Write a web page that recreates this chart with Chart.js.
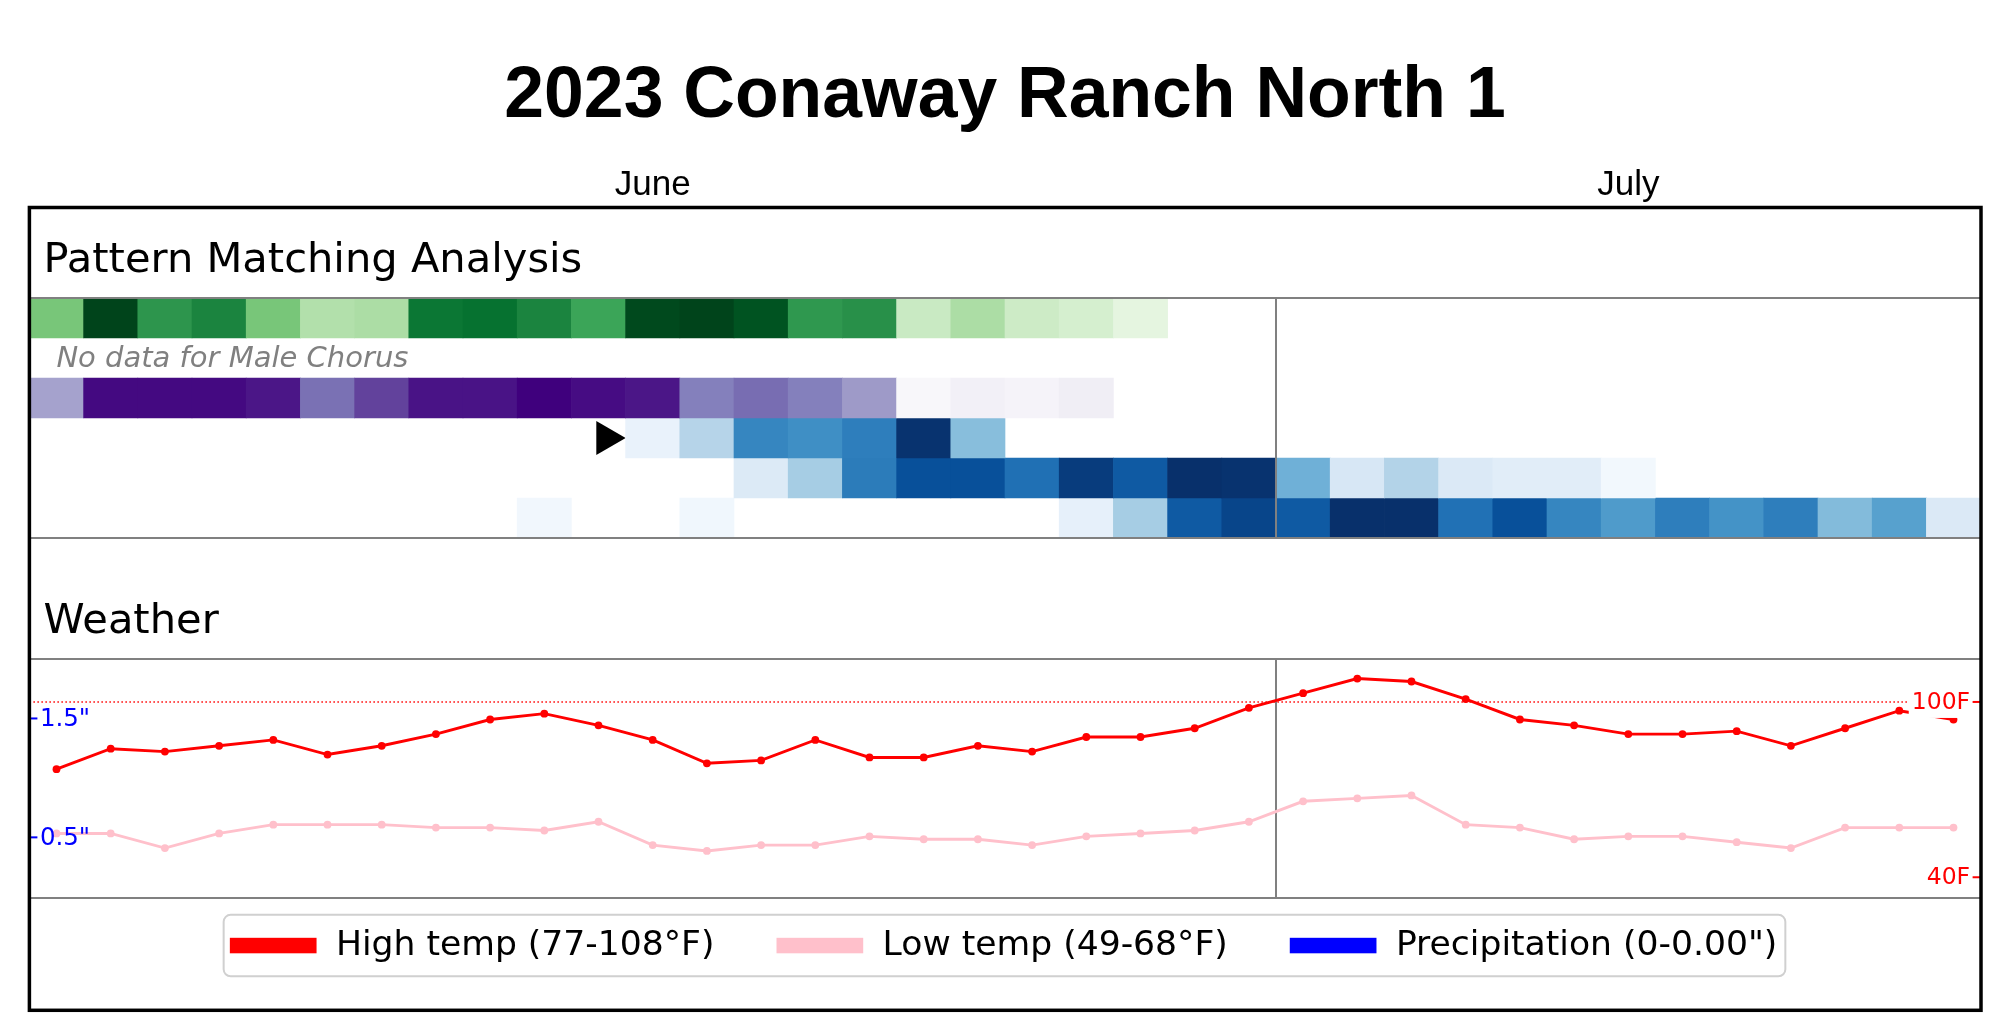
<!DOCTYPE html>
<html>
<head>
<meta charset="utf-8">
<title>2023 Conaway Ranch North 1</title>
<script src="https://cdn.jsdelivr.net/npm/chart.js@4.4.1/dist/chart.umd.min.js"></script>
<style>
html, body { margin:0; padding:0; background:#ffffff; }
#wrap { position:relative; width:2009px; height:1032px; overflow:hidden; background:#ffffff; }
#wrap canvas { position:absolute; left:0; top:0; }
</style>
</head>
<body>
<div id="wrap">
  <canvas id="heat" width="2009" height="1032"></canvas>
  <canvas id="weather" width="2009" height="1032"></canvas>
</div>
<script>
// ================= DATA =================
const chartTitle = '2023 Conaway Ranch North 1';
const days = [
  '2023-06-08','2023-06-09','2023-06-10','2023-06-11','2023-06-12','2023-06-13','2023-06-14','2023-06-15',
  '2023-06-16','2023-06-17','2023-06-18','2023-06-19','2023-06-20','2023-06-21','2023-06-22','2023-06-23',
  '2023-06-24','2023-06-25','2023-06-26','2023-06-27','2023-06-28','2023-06-29','2023-06-30',
  '2023-07-01','2023-07-02','2023-07-03','2023-07-04','2023-07-05','2023-07-06','2023-07-07','2023-07-08',
  '2023-07-09','2023-07-10','2023-07-11','2023-07-12','2023-07-13'
];
const monthNames = ['June', 'July'];

// Pattern matching rows (intensity 0..1, null = no value)
const greenRow = [0.49, 1.00, 0.71, 0.78, 0.49, 0.32, 0.34, 0.835, 0.855, 0.78, 0.65, 0.985, 1.00, 0.955, 0.70, 0.73, 0.24, 0.34, 0.225, 0.19, 0.125,
  null, null, null, null, null, null, null, null, null, null, null, null, null, null, null];
const maleChorusRow = [null, null, null, null, null, null, null, null, null, null, null, null, null, null, null, null, null, null,
  null, null, null, null, null, null, null, null, null, null, null, null, null, null, null, null, null, null];
const purpleRow = [0.47, 0.97, 0.97, 0.97, 0.93, 0.66, 0.795, 0.94, 0.94, 1.00, 0.96, 0.93, 0.61, 0.67, 0.61, 0.50, 0.04, 0.10, 0.07, 0.12,
  null, null, null, null, null, null, null, null, null, null, null, null, null, null, null, null];
const blueRow1 = [null, null, null, null, null, null, null, null, null, null, null,
  0.07, 0.30, 0.67, 0.635, 0.70, 0.99, 0.43,
  null, null, null, null, null, null, null, null, null, null, null, null, null, null, null, null, null, null];
const blueRow2 = [null, null, null, null, null, null, null, null, null, null, null, null, null,
  0.135, 0.35, 0.71, 0.88, 0.88, 0.755, 0.955, 0.84, 1.00, 0.99, 0.49, 0.16, 0.31, 0.14, 0.11, 0.11, 0.025,
  null, null, null, null, null, null];
const blueRow3 = [null, null, null, null, null, null, null, null, null, 0.03, null, null, 0.035,
  null, null, null, null, null, null,
  0.085, 0.35, 0.84, 0.92, 0.84, 1.00, 1.00, 0.75, 0.88, 0.67, 0.585, 0.70, 0.62, 0.70, 0.44, 0.56, 0.14];
const markerDay = 10.14;   // start marker position (day index)
const markerRow = 3;       // row of the start marker

// Weather
const highTemp = [77, 84, 83, 85, 87, 82, 85, 89, 94, 96, 92, 87, 79, 80, 87, 81, 81, 85, 83, 88, 88, 91, 98, 103, 108, 107, 101, 94, 92, 89, 89, 90, 85, 91, 97, 94];
const lowTemp  = [55, 55, 50, 55, 58, 58, 58, 57, 57, 56, 59, 51, 49, 51, 51, 54, 53, 53, 51, 54, 55, 56, 59, 66, 67, 68, 58, 57, 53, 54, 54, 52, 50, 57, 57, 57];
const precip   = [0, 0, 0, 0, 0, 0, 0, 0, 0, 0, 0, 0, 0, 0, 0, 0, 0, 0, 0, 0, 0, 0, 0, 0, 0, 0, 0, 0, 0, 0, 0, 0, 0, 0, 0, 0];
const tempRefLine = 100;
const tempTicks = [40, 100];
const precipTicks = [0.5, 1.5];

// ================= STYLE / HELPERS =================
Chart.defaults.font.family = '"DejaVu Sans", sans-serif';
const CMAPS = {
  Greens:  ['#f7fcf5','#e5f5e0','#c7e9c0','#a1d99b','#74c476','#41ab5d','#238b45','#006d2c','#00441b'],
  Purples: ['#fcfbfd','#efedf5','#dadaeb','#bcbddc','#9e9ac8','#807dba','#6a51a3','#54278f','#3f007d'],
  Blues:   ['#f7fbff','#deebf7','#c6dbef','#9ecae1','#6baed6','#4292c6','#2171b5','#08519c','#08306b']
};
function hexToRgb(h) { const n = parseInt(h.slice(1), 16); return [(n >> 16) & 255, (n >> 8) & 255, n & 255]; }
function cmap(name, v) {
  const stops = CMAPS[name].map(hexToRgb);
  const t = Math.max(0, Math.min(1, v)) * (stops.length - 1);
  const i = Math.min(stops.length - 2, Math.floor(t));
  const f = t - i;
  const c = stops[i].map((a, k) => Math.round(a + (stops[i + 1][k] - a) * f));
  return 'rgb(' + c[0] + ',' + c[1] + ',' + c[2] + ')';
}

const heatRows = [
  { label: 'Pattern A', values: greenRow, cmap: 'Greens' },
  { label: 'Male Chorus', values: maleChorusRow, cmap: 'Greens' },
  { label: 'Pattern C', values: purpleRow, cmap: 'Purples' },
  { label: 'Pattern D', values: blueRow1, cmap: 'Blues' },
  { label: 'Pattern E', values: blueRow2, cmap: 'Blues' },
  { label: 'Pattern F', values: blueRow3, cmap: 'Blues' }
];

const months = [];
days.forEach((d, i) => {
  const m = +d.slice(5, 7);
  let g = months[months.length - 1];
  if (!g || g.m !== m) { g = { m: m, name: monthNames[months.length], first: i, last: i }; months.push(g); }
  else g.last = i;
});

const W = 2009, H = 1032;
const PLOT_L = 29.4, PLOT_R = 1980.6;
const GRAY = '#808080';

function hline(ctx, x0, x1, y) { ctx.beginPath(); ctx.moveTo(x0, y); ctx.lineTo(x1, y); ctx.stroke(); }
function vline(ctx, x, y0, y1) { ctx.beginPath(); ctx.moveTo(x, y0); ctx.lineTo(x, y1); ctx.stroke(); }
function integerTicks(scale) { scale.ticks = days.map((d, i) => ({ value: i })); }

// ================= HEATMAP CHART =================
const heatDecor = {
  id: 'heatDecor',
  afterDatasetsDraw(chart) {
    const { ctx, chartArea: a, scales: { x, y } } = chart;
    ctx.save();
    // empty-row notes
    ctx.fillStyle = '#808080';
    ctx.font = 'italic 29px "DejaVu Sans"';
    ctx.textAlign = 'left';
    ctx.textBaseline = 'alphabetic';
    heatRows.forEach((row, r) => {
      if (row.values.every(v => v == null)) {
        ctx.fillText('No data for ' + row.label, x.getPixelForValue(-0.5) + 27, y.getPixelForValue(r + 0.5) + 9);
      }
    });
    // axes lines
    ctx.strokeStyle = GRAY; ctx.lineWidth = 2;
    hline(ctx, a.left, a.right, a.top);
    hline(ctx, a.left, a.right, a.bottom);
    months.slice(1).forEach(m => vline(ctx, x.getPixelForValue(m.first - 0.5), a.top, a.bottom));
    // month labels
    ctx.fillStyle = '#000';
    ctx.font = '35px "Liberation Sans"';
    ctx.textAlign = 'center';
    months.forEach(m => {
      const cx = (x.getPixelForValue(m.first - 0.5) + x.getPixelForValue(m.last + 0.5)) / 2;
      ctx.fillText(m.name, cx, 195);
    });
    // title
    ctx.font = 'bold 71.5px "Liberation Sans"';
    ctx.fillText(chartTitle, (PLOT_L + PLOT_R) / 2, 117);
    // section heading
    ctx.textAlign = 'left';
    ctx.font = '41.6px "DejaVu Sans"';
    ctx.fillText('Pattern Matching Analysis', 43.6, 271.5);
    ctx.restore();
  }
};

const heatDatasets = heatRows.map((row, r) => ({
  type: 'bar',
  label: row.label,
  data: row.values.map((v, i) => (v == null ? null : { x: i, y: [r, r + 1], v: v })).filter(Boolean),
  backgroundColor: (c) => (c.raw && c.raw.v != null ? cmap(row.cmap, c.raw.v) : 'rgba(0,0,0,0)'),
  borderWidth: 0,
  grouped: false,
  barPercentage: 1,
  categoryPercentage: 1
}));
heatDatasets.push({
  type: 'scatter',
  label: 'start',
  data: [{ x: markerDay, y: markerRow + 0.5 }],
  pointStyle: 'triangle',
  rotation: 90,
  pointRadius: 19.6,
  backgroundColor: '#000000',
  borderColor: '#000000',
  borderWidth: 0
});

new Chart(document.getElementById('heat'), {
  type: 'bar',
  data: { datasets: heatDatasets },
  options: {
    responsive: false,
    animation: false,
    events: [],
    layout: { padding: { left: PLOT_L, right: W - PLOT_R, top: 298, bottom: H - 538 } },
    plugins: { legend: { display: false }, tooltip: { enabled: false } },
    scales: {
      x: { type: 'linear', min: -0.5, max: 35.5, offset: false, display: false, afterBuildTicks: integerTicks },
      y: { type: 'linear', min: 0, max: 6, reverse: true, display: false }
    }
  },
  plugins: [heatDecor]
});

// ================= WEATHER CHART =================
const weatherDecor = {
  id: 'weatherDecor',
  beforeDatasetsDraw(chart) {
    const { ctx, chartArea: a, scales: { x } } = chart;
    ctx.save();
    ctx.strokeStyle = GRAY; ctx.lineWidth = 2;
    hline(ctx, a.left, a.right, a.top);
    hline(ctx, a.left, a.right, a.bottom);
    months.slice(1).forEach(m => vline(ctx, x.getPixelForValue(m.first - 0.5), a.top, a.bottom));
    ctx.restore();
  },
  afterDatasetsDraw(chart) {
    const { ctx, chartArea: a, scales: { yP, yT } } = chart;
    ctx.save();
    ctx.font = '24.5px "DejaVu Sans"';
    ctx.textBaseline = 'middle';
    ctx.lineWidth = 2;
    // precipitation axis (left, inside)
    ctx.fillStyle = '#0000ff'; ctx.strokeStyle = '#0000ff';
    ctx.textAlign = 'left';
    precipTicks.forEach(v => {
      const py = yP.getPixelForValue(v);
      hline(ctx, a.left, a.left + 8, py);
      ctx.fillText(v.toFixed(1) + '"', a.left + 10.5, py + 1);
    });
    // temperature axis (right, inside, with white backdrop)
    ctx.font = '23.5px "DejaVu Sans"';
    ctx.textAlign = 'right';
    tempTicks.forEach(v => {
      const py = yT.getPixelForValue(v);
      const label = v + 'F';
      const w = ctx.measureText(label).width;
      ctx.fillStyle = '#ffffff';
      ctx.fillRect(a.right - 10.5 - w - 3, py - 15, w + 13.5, 31);
      ctx.fillStyle = '#ff0000'; ctx.strokeStyle = '#ff0000';
      ctx.fillText(label, a.right - 10.5, py + 1);
      hline(ctx, a.right - 8, a.right, py);
    });
    ctx.restore();
  },
  afterDraw(chart) {
    const { ctx } = chart;
    ctx.save();
    // section heading
    ctx.fillStyle = '#000';
    ctx.font = '41.6px "DejaVu Sans"';
    ctx.textAlign = 'left'; ctx.textBaseline = 'alphabetic';
    ctx.fillText('Weather', 43.6, 633);
    // legend
    const items = chart.data.datasets.filter(d => d.legendText).map(d => ({ text: d.legendText, color: d.borderColor || d.backgroundColor }));
    ctx.font = '34.6px "DejaVu Sans"';
    const patchW = 86.7, patchH = 15.5, textGap = 19.4, colGap = 62, padL = 6.2, padR = 8;
    const widths = items.map(it => ctx.measureText(it.text).width);
    const inner = widths.reduce((s, w) => s + patchW + textGap + w, 0) + colGap * (items.length - 1);
    const boxW = inner + padL + padR;
    const boxL = 1004.5 - boxW / 2, boxT = 914.8, boxH = 61.5;
    const cy = boxT + boxH / 2;
    ctx.beginPath();
    ctx.roundRect(boxL, boxT, boxW, boxH, 7);
    ctx.fillStyle = 'rgba(255,255,255,0.8)'; ctx.fill();
    ctx.strokeStyle = '#d0d0d0'; ctx.lineWidth = 2; ctx.stroke();
    let cx = boxL + padL;
    ctx.textBaseline = 'middle';
    items.forEach((it, i) => {
      ctx.fillStyle = it.color;
      ctx.fillRect(cx, cy - patchH / 2, patchW, patchH);
      cx += patchW + textGap;
      ctx.fillStyle = '#000';
      ctx.fillText(it.text, cx, cy);
      cx += widths[i] + colGap;
    });
    // outer frame
    ctx.strokeStyle = '#000'; ctx.lineWidth = 3.5;
    ctx.strokeRect(PLOT_L, 207.5, 1981 - PLOT_L, 1010.3 - 207.5);
    ctx.restore();
  }
};

const rng = (arr) => [Math.min(...arr), Math.max(...arr)];
const hiR = rng(highTemp), loR = rng(lowTemp), prR = rng(precip);

new Chart(document.getElementById('weather'), {
  type: 'line',
  data: {
    datasets: [
      {
        label: 'High temp', legendText: 'High temp (' + hiR[0] + '-' + hiR[1] + '\u00B0F)',
        data: highTemp.map((v, i) => ({ x: i, y: v })),
        borderColor: '#ff0000', backgroundColor: '#ff0000', borderWidth: 2.9,
        pointRadius: 3.9, pointBorderWidth: 0, yAxisID: 'yT', order: 1
      },
      {
        label: 'Low temp', legendText: 'Low temp (' + loR[0] + '-' + loR[1] + '\u00B0F)',
        data: lowTemp.map((v, i) => ({ x: i, y: v })),
        borderColor: '#ffc0cb', backgroundColor: '#ffc0cb', borderWidth: 2.9,
        pointRadius: 3.9, pointBorderWidth: 0, yAxisID: 'yT', order: 2
      },
      {
        type: 'bar',
        label: 'Precipitation', legendText: 'Precipitation (' + prR[0] + '-' + prR[1].toFixed(2) + '")',
        data: precip.map((v, i) => ({ x: i, y: v })),
        backgroundColor: '#0000ff', borderColor: '#0000ff', borderWidth: 0, inflateAmount: 0,
        yAxisID: 'yP', order: 4
      },
      {
        label: '100F line',
        data: [{ x: -0.5, y: tempRefLine }, { x: days.length - 0.5, y: tempRefLine }],
        borderColor: '#ff0000', borderWidth: 1.5, borderDash: [1.5, 2.5],
        pointRadius: 0, yAxisID: 'yT', order: 3
      }
    ]
  },
  options: {
    responsive: false,
    animation: false,
    events: [],
    layout: { padding: { left: PLOT_L, right: W - PLOT_R, top: 659, bottom: H - 898 } },
    plugins: { legend: { display: false }, tooltip: { enabled: false } },
    scales: {
      x: { type: 'linear', min: -0.5, max: 35.5, offset: false, display: false, afterBuildTicks: integerTicks },
      yT: { type: 'linear', position: 'right', min: 32.9, max: 114.7, display: false },
      yP: { type: 'linear', position: 'left', min: -0.01, max: 2.0, display: false }
    }
  },
  plugins: [weatherDecor]
});
</script>
</body>
</html>
